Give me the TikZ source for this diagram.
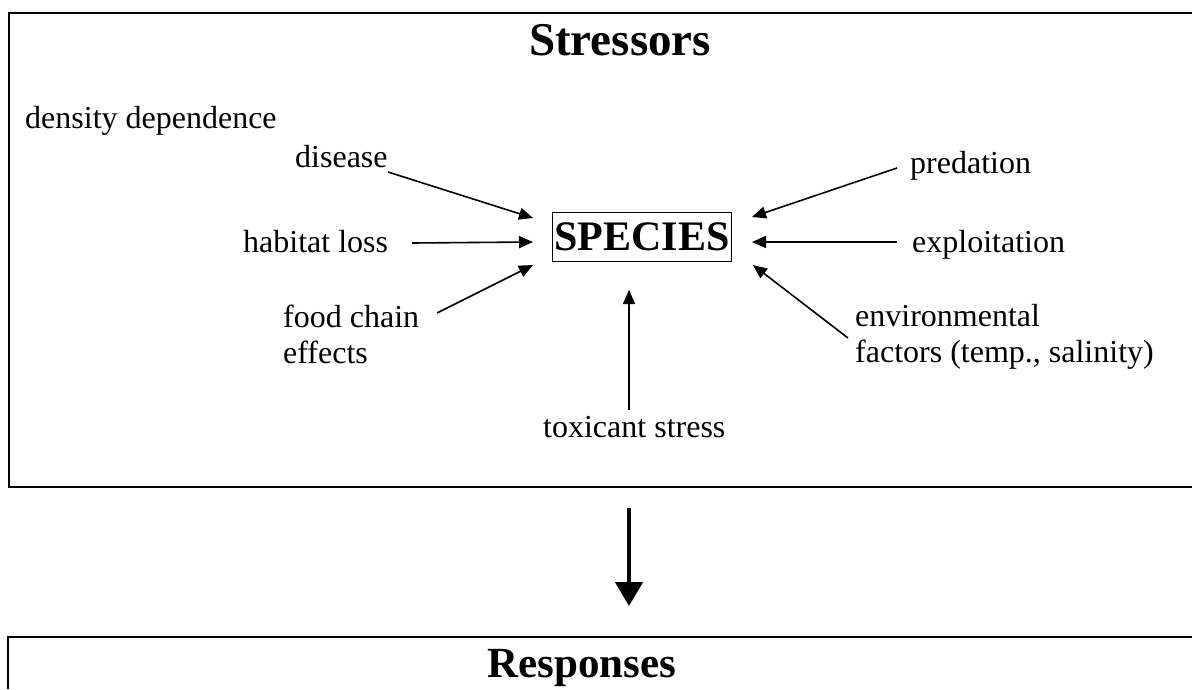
\documentclass[tikz,border=0pt]{standalone}
\usepackage{fontspec}
\setmainfont{Liberation Serif}
\usetikzlibrary{arrows.meta}
\begin{document}
\begin{tikzpicture}[x=1pt,y=-1pt,
  lbl/.style={inner sep=0pt,anchor=base west,font=\fontsize{32}{36}\selectfont},
  frame/.style={line width=1.8pt},
  feed/.style={line width=1.6pt,-{Triangle[length=14pt,width=12pt]}},
  bigarrow/.style={line width=4.5pt,-{Triangle[length=24pt,width=27pt]}}]
\useasboundingbox (0,0) rectangle (1192,689);
% panel outlines
\draw[frame] (1192,13) -- (9,13) -- (9,487) -- (1192,487);
\draw[frame] (8,689) -- (8,637) -- (1192,637);
% headings
\node[inner sep=0pt,anchor=base,font=\fontsize{47}{50}\selectfont\bfseries] (stress) at (620,55) {Stressors};
\node[inner sep=0pt,anchor=base,font=\fontsize{43}{48}\selectfont\bfseries] (resp) at (582,677) {Responses};
% central node
\node[draw,line width=1.1pt,inner xsep=2pt,inner ysep=10pt,font=\fontsize{42}{46}\selectfont\bfseries] (species) at (642,237) {SPECIES};
% stressor labels
\node[lbl] (dens) at (25,128) {density dependence};
\node[lbl] (dis) at (295,167) {disease};
\node[lbl] (hab) at (243,252) {habitat loss};
\node[lbl,align=left,anchor=north west] (food) at (283,305) {food chain\\effects};
\node[lbl] (pred) at (910,173) {predation};
\node[lbl] (expl) at (912,252) {exploitation};
\node[lbl,align=left,anchor=north west] (env) at (855,304) {environmental\\factors (temp., salinity)};
\node[lbl] (tox) at (543,437) {toxicant stress};
% arrow ends
\coordinate (disS) at (388,172);   \coordinate (disT) at (533,218);
\coordinate (habS) at (412,243);   \coordinate (habT) at (533,242);
\coordinate (foodS) at (437,313);  \coordinate (foodT) at (533,265);
\coordinate (predS) at (897,168);  \coordinate (predT) at (752,217);
\coordinate (explS) at (897,242);  \coordinate (explT) at (752,242);
\coordinate (envS) at (848,338);   \coordinate (envT) at (753,265);
\coordinate (toxS) at (629,410);   \coordinate (toxT) at (629,290);
\coordinate (flowS) at (629,508);  \coordinate (flowT) at (629,606);
% connectors
\draw[feed] (disS) -- (disT);
\draw[feed] (habS) -- (habT);
\draw[feed] (foodS) -- (foodT);
\draw[feed] (predS) -- (predT);
\draw[feed] (explS) -- (explT);
\draw[feed] (envS) -- (envT);
\draw[feed] (toxS) -- (toxT);
\draw[bigarrow] (flowS) -- (flowT);
\end{tikzpicture}
\end{document}
